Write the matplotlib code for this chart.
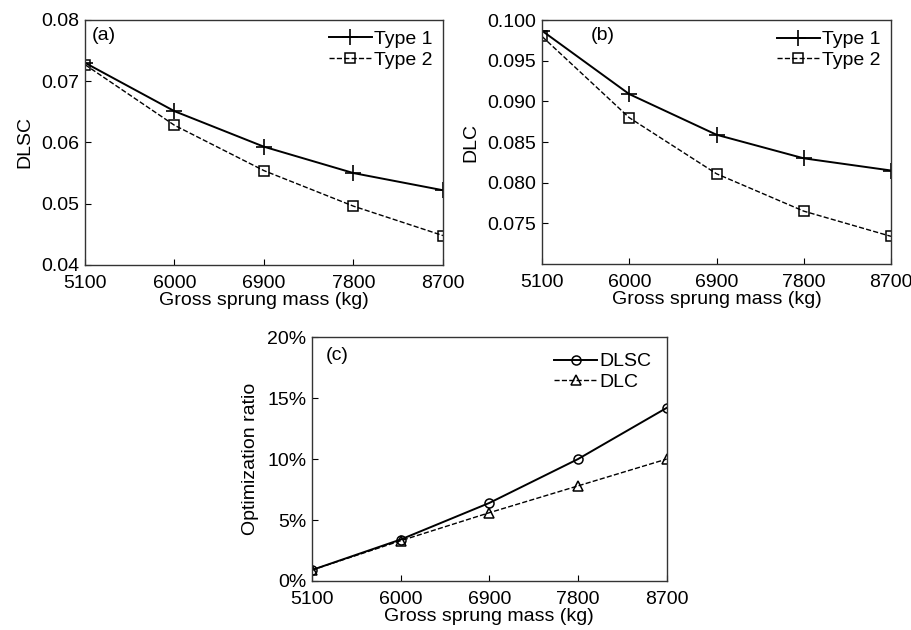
import matplotlib
matplotlib.use("Agg")
import matplotlib.pyplot as plt
from matplotlib.ticker import FuncFormatter

plt.rcParams['font.family'] = ['Liberation Sans', 'DejaVu Sans']
plt.rcParams['font.size'] = 14

mass = [5100, 6000, 6900, 7800, 8700]
dlsc_type1 = [0.0730, 0.0651, 0.0593, 0.0550, 0.0522]
dlsc_type2 = [0.0727, 0.0628, 0.0554, 0.0496, 0.0448]
dlc_type1 = [0.0987, 0.0909, 0.0859, 0.0830, 0.0815]
dlc_type2 = [0.0980, 0.0880, 0.0811, 0.0765, 0.0734]
ratio_dlsc = [0.9, 3.4, 6.4, 10.0, 14.2]
ratio_dlc = [0.9, 3.3, 5.6, 7.8, 10.0]

FS = 14
fig = plt.figure(figsize=(9.12, 6.30), dpi=100)
ax_a = fig.add_axes([0.0932, 0.5794, 0.3925, 0.389])
ax_b = fig.add_axes([0.5943, 0.581, 0.3827, 0.387])
ax_c = fig.add_axes([0.342, 0.0778, 0.389, 0.387])

def style(ax):
    ax.tick_params(direction='in', length=4, width=0.8, colors='black', labelsize=FS)
    ax.tick_params(axis='x', pad=7)
    ax.tick_params(axis='y', pad=4)
    for s in ax.spines.values():
        s.set_linewidth(1.0)
        s.set_color('#333333')
    ax.set_xlim(5100, 8700)
    ax.set_xticks(mass)
    ax.set_xlabel('Gross sprung mass (kg)', fontsize=FS, labelpad=0)

# (a)
ax_a.plot(mass, dlsc_type1, '-', color='black', lw=1.4, marker='+', ms=11, mew=1.2, label='Type 1')
ax_a.plot(mass, dlsc_type2, '--', color='black', lw=1.0, marker='s', ms=6.5, mfc='none', mew=1.1, label='Type 2')
ax_a.set_ylim(0.04, 0.08)
ax_a.set_yticks([0.04, 0.05, 0.06, 0.07, 0.08])
ax_a.yaxis.set_major_formatter(FuncFormatter(lambda v, p: f'{v:.2f}'))
ax_a.set_ylabel('DLSC', fontsize=FS, labelpad=6)
style(ax_a)
ax_a.text(0.02, 0.97, '(a)', transform=ax_a.transAxes, va='top', ha='left', fontsize=FS)
ax_a.legend(loc='upper right', frameon=False, handlelength=2.2, handletextpad=0.1,
            borderaxespad=0.15, labelspacing=0.15, fontsize=FS)

# (b)
ax_b.plot(mass, dlc_type1, '-', color='black', lw=1.4, marker='+', ms=11, mew=1.2, label='Type 1')
ax_b.plot(mass, dlc_type2, '--', color='black', lw=1.0, marker='s', ms=6.5, mfc='none', mew=1.1, label='Type 2')
ax_b.set_ylim(0.070, 0.100)
ax_b.set_yticks([0.075, 0.080, 0.085, 0.090, 0.095, 0.100])
ax_b.yaxis.set_major_formatter(FuncFormatter(lambda v, p: f'{v:.3f}'))
ax_b.set_ylabel('DLC', fontsize=FS, labelpad=6)
style(ax_b)
ax_b.text(0.14, 0.97, '(b)', transform=ax_b.transAxes, va='top', ha='left', fontsize=FS)
ax_b.legend(loc='upper right', frameon=False, handlelength=2.2, handletextpad=0.1,
            borderaxespad=0.15, labelspacing=0.15, fontsize=FS)

# (c)
ax_c.plot(mass, ratio_dlsc, '-', color='black', lw=1.4, marker='o', ms=6.5, mfc='none', mew=1.1, label='DLSC')
ax_c.plot(mass, ratio_dlc, '--', color='black', lw=1.0, marker='^', ms=6.5, mfc='none', mew=1.1, label='DLC')
ax_c.set_ylim(0, 20)
ax_c.set_yticks([0, 5, 10, 15, 20])
ax_c.yaxis.set_major_formatter(FuncFormatter(lambda v, p: f'{v:.0f}%'))
ax_c.set_ylabel('Optimization ratio', fontsize=FS, labelpad=6)
style(ax_c)
ax_c.text(0.04, 0.96, '(c)', transform=ax_c.transAxes, va='top', ha='left', fontsize=FS)
ax_c.legend(loc='upper right', frameon=False, handlelength=2.2, handletextpad=0.1,
            borderaxespad=0.4, labelspacing=0.15, fontsize=FS)

fig.savefig('out.png', dpi=100)
